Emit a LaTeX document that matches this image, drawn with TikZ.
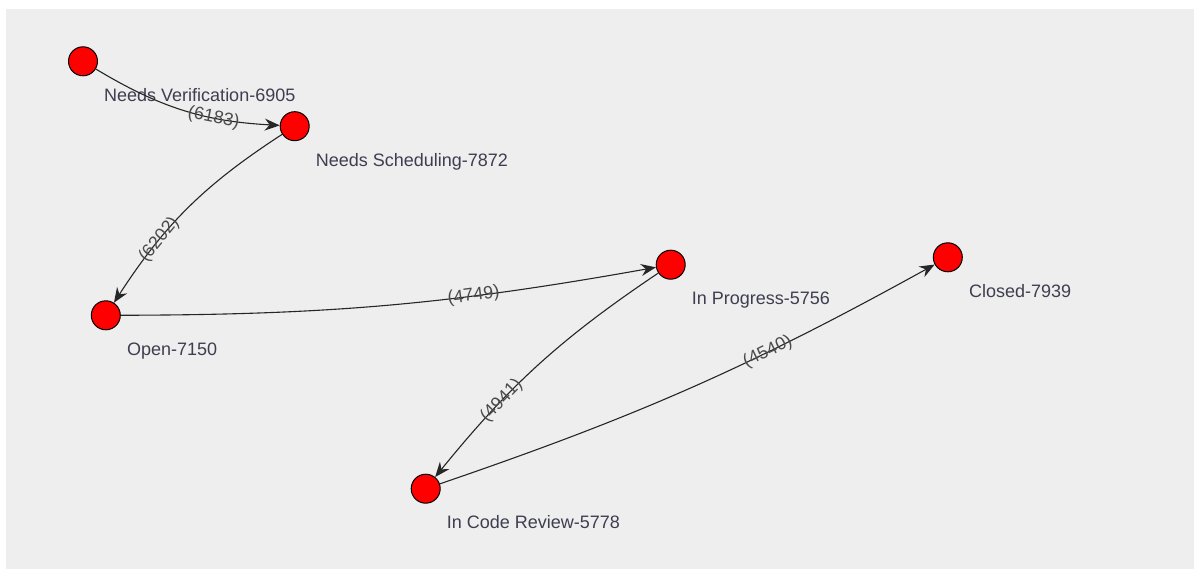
\documentclass[tikz,border=0pt]{standalone}
\usepackage{fontspec}
\setmainfont{Liberation Sans}
\usetikzlibrary{arrows.meta}
\definecolor{bg}{RGB}{238,238,238}
\definecolor{lbl}{RGB}{62,62,80}
\definecolor{elbl}{RGB}{75,75,75}
\begin{document}
\begin{tikzpicture}[x=1pt,y=1pt,
  state/.style={circle, draw=black, fill=red, line width=1pt, minimum size=29pt, inner sep=0pt},
  nlabel/.style={anchor=base west, text=lbl, font=\fontsize{18}{20}\selectfont, inner sep=0pt},
  edge/.style={draw=black!85, line width=1.1pt, -{Stealth[length=15pt,width=12pt,inset=5pt]}},
  elabel/.style={sloped, pos=0.67, text=elbl, font=\fontsize{18}{20}\selectfont, inner sep=0pt}]
\useasboundingbox (0,0) rectangle (1194,570);
\fill[bg] (6,0.7) rectangle (1194,561);

\node[state] (nv) at (83,508.7) {};
\node[state] (ns) at (294.7,443.8) {};
\node[state] (op) at (105.8,254.7) {};
\node[state] (ip) at (670.7,305.3) {};
\node[state] (cl) at (947.8,312.7) {};
\node[state] (cr) at (425.7,81.3) {};

\node[nlabel] (nvl) at (104,468.7) {Needs Verification-6905};
\node[nlabel] (nsl) at (315.7,403.8) {Needs Scheduling-7872};
\node[nlabel] (opl) at (126.8,214.7) {Open-7150};
\node[nlabel] (ipl) at (691.7,265.3) {In Progress-5756};
\node[nlabel] (cll) at (968.8,272.7) {Closed-7939};
\node[nlabel] (crl) at (446.7,41.3) {In Code Review-5778};

\draw[edge] (nv) to[bend right=14] node[elabel, pos=0.67] {(6183)} (ns);
\draw[edge] (ns) to[bend right=12] node[elabel, pos=0.69] {(6202)} (op);
\draw[edge] (op) to[bend right=5] node[elabel] {(4749)} (ip);
\draw[edge] (ip) to[bend right=8.5] node[elabel, pos=0.68] {(4941)} (cr);
\draw[edge] (cr) to[bend right=5] node[elabel, pos=0.665] {(4540)} (cl);
\end{tikzpicture}
\end{document}
